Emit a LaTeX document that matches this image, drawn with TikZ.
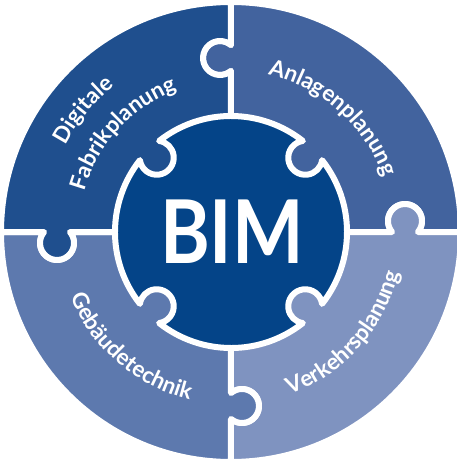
\documentclass[tikz,border=0pt]{standalone}
\usepackage{fontspec}
\setmainfont{Lato}
\usepackage{graphicx}
\usepackage{tikz}
\usetikzlibrary{decorations.text}

\definecolor{digital}{RGB}{31,79,142}
\definecolor{anlagen}{RGB}{66,99,158}
\definecolor{gebaeude}{RGB}{93,121,174}
\definecolor{verkehr}{RGB}{127,147,192}
\definecolor{bimblue}{RGB}{4,68,136}

\newcommand{\labelfont}{\bfseries\fontsize{22.5}{22.5}\selectfont}

\begin{document}
\begin{tikzpicture}[
    x=1pt, y=1pt,
    line join=round,
    piece/.style={draw=white, line width=6pt, insert path={
        (0:116pt) -- (161.04,0) arc[start angle=220.3, end angle=-40.3, radius=17pt]
        -- (0:230pt) arc[start angle=0, end angle=90, radius=230pt]
        -- (0,186.96) arc[start angle=49.7, end angle=310.3, radius=17pt]
        -- (90:116pt) arc[start angle=90, end angle=51.73, radius=116pt]
        arc[start angle=98.2, end angle=351.8, radius=17pt]
        arc[start angle=38.27, end angle=0, radius=116pt] -- cycle}},
    arctext/.style={decorate, decoration={text along path, text align=center,
        text color=white, text={|\labelfont|#1}}}
]
\useasboundingbox (-231,-229) rectangle (225,232);

% Center
\fill[bimblue] (0,0) circle[radius=116pt];

% Pieces
\draw[rotate=0, fill=anlagen, piece];
\draw[rotate=-90, fill=verkehr, piece];
\draw[rotate=-180, fill=gebaeude, piece];
\draw[rotate=-270, fill=digital, piece];

\node[text=white, font=\bfseries\fontsize{88}{88}\selectfont] (bim) at (1,0) {\scalebox{0.86}[1]{BIM}};

% Labels
\path[arctext=Anlagenplanung] (108.3:162pt) arc[start angle=108.3, end angle=-11.7, radius=162pt];
\path[arctext=Digitale] (200.5:187pt) arc[start angle=200.5, end angle=80.5, radius=187pt];
\path[arctext=Fabrikplanung] (207.7:152pt) arc[start angle=207.7, end angle=67.7, radius=152pt];
\path[arctext=Verkehrsplanung] (-101.9:173pt) arc[start angle=-101.9, end angle=18.1, radius=173pt];
\path[arctext=Gebäudetechnik] (-191:173pt) arc[start angle=-191, end angle=-71, radius=173pt];
\end{tikzpicture}
\end{document}
